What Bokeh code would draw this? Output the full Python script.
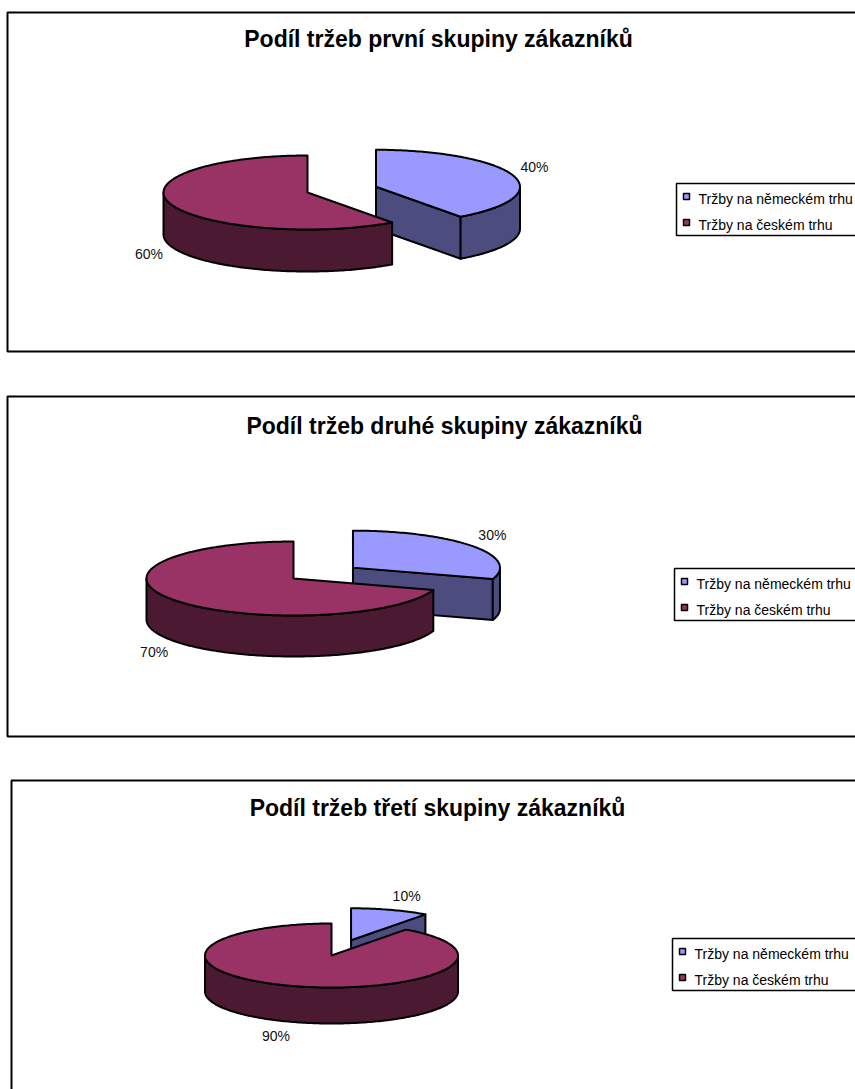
import numpy as np
from bokeh.plotting import figure
from bokeh.models import Range1d
from bokeh.core.properties import value
from bokeh.embed import file_html
from bokeh.resources import INLINE

# ---------------- data ----------------
categories = ["Tržby na německém trhu", "Tržby na českém trhu"]
titles = [
    "Podíl tržeb první skupiny zákazníků",
    "Podíl tržeb druhé skupiny zákazníků",
    "Podíl tržeb třetí skupiny zákazníků",
]
shares_first = [40, 60]
shares_second = [30, 70]
shares_third = [10, 90]
series = [shares_first, shares_second, shares_third]

# ---------------- styles / layout ----------------
top_colors = ["#9999FF", "#993366"]
side_colors = ["#4C4C7F", "#4C1933"]
explode = [0.5, 0.0]
FONT = "Liberation Sans"

layouts = [
    dict(box=(7, 12, 351), title=(438, 38), center=(307, 192), a=144, b=37, depth=42, legend=(676, 183)),
    dict(box=(7, 396, 736), title=(444, 425), center=(293, 578), a=147, b=37, depth=41, legend=(674, 568)),
    dict(box=(11, 780, 1110), title=(437, 807), center=(331, 955), a=126.5, b=32, depth=36, legend=(672, 938)),
]

W, H = 855, 1089
p = figure(width=W, height=H, output_backend="svg", toolbar_location=None,
           x_range=Range1d(0, W), y_range=Range1d(H, 0),
           min_border=0, x_axis_location=None, y_axis_location=None,
           background_fill_color="white", border_fill_color="white")
p.outline_line_color = None
p.xgrid.visible = False
p.ygrid.visible = False


def arc(cx, cy, a, b, t0, t1, dy=0.0):
    n = max(2, int(abs(t1 - t0)) + 1)
    t = np.radians(np.linspace(t0, t1, n))
    return list(cx + a * np.cos(t)), list(cy - b * np.sin(t) + dy)


def front_parts(s, e):
    parts = []
    for k in range(-3, 4):
        lo, hi = k * 360 - 180, k * 360
        a0, a1 = max(s, lo), min(e, hi)
        if a1 - a0 > 1e-6:
            parts.append((a0, a1))
    return parts


for vals, title, L in zip(series, titles, layouts):
    left, top, bottom = L["box"]
    p.quad(left=[left], right=[W + 20], top=[top], bottom=[bottom],
           fill_color=None, line_color="black", line_width=2)
    p.text(x=[L["title"][0]], y=[L["title"][1]], text=[title],
           text_font=value(FONT), text_font_size=value("23px"), text_font_style="bold",
           text_align="center", text_baseline="middle", text_color="black")

    cx0, cy0 = L["center"]
    a, b, depth = L["a"], L["b"], L["depth"]
    total = float(sum(vals))
    cum = np.concatenate([[0.0], np.cumsum(vals)]) / total

    xs, ys, fills = [], [], []
    labels = []
    for i, v in enumerate(vals):
        s = 90 - 360 * cum[i + 1]
        e = 90 - 360 * cum[i]
        m = (s + e) / 2
        mr = np.radians(m)
        cx = cx0 + explode[i] * a * np.cos(mr)
        cy = cy0 - explode[i] * b * np.sin(mr)

        # radial walls
        for ang, vis in ((s, np.cos(np.radians(s)) > 1e-9), (e, np.cos(np.radians(e)) < -1e-9)):
            if vis:
                r = np.radians(ang)
                rx, ry = cx + a * np.cos(r), cy - b * np.sin(r)
                xs.append([cx, rx, rx, cx])
                ys.append([cy, ry, ry + depth, cy + depth])
                fills.append(side_colors[i])
        # outer front wall
        for a0, a1 in front_parts(s, e):
            tx, ty = arc(cx, cy, a, b, a0, a1)
            bx, by = arc(cx, cy, a, b, a1, a0, dy=depth)
            xs.append(tx + bx)
            ys.append(ty + by)
            fills.append(side_colors[i])
        # top face
        tx, ty = arc(cx, cy, a, b, s, e)
        xs.append([cx] + tx)
        ys.append([cy] + ty)
        fills.append(top_colors[i])

        # label
        px, py = cx + a * np.cos(mr), cy - b * np.sin(mr)
        if np.sin(mr) < 0:
            py += depth
        g, hw, hh = 8, 14, 6
        lx = px + g * np.cos(mr) + np.sign(np.cos(mr)) * hw
        ly = py - g * np.sin(mr) - np.sign(np.sin(mr)) * hh
        labels.append((lx, ly, f"{v}%"))

    p.patches(xs=xs, ys=ys, fill_color=fills, line_color="black", line_width=2,
              line_join="round")
    p.text(x=[l[0] for l in labels], y=[l[1] for l in labels], text=[l[2] for l in labels],
           text_font=value(FONT), text_font_size=value("14px"),
           text_align="center", text_baseline="middle", text_color="#111111")

    # legend
    lx0, ly0 = L["legend"]
    p.quad(left=[lx0], right=[W + 20], top=[ly0], bottom=[ly0 + 52],
           fill_color="white", line_color="black", line_width=1.5)
    p.quad(left=[lx0 + 7, lx0 + 7], right=[lx0 + 13, lx0 + 13],
           top=[ly0 + 10, ly0 + 36], bottom=[ly0 + 16, ly0 + 42],
           fill_color=top_colors, line_color="black", line_width=1.5)
    p.text(x=[lx0 + 22, lx0 + 22], y=[ly0 + 15, ly0 + 41], text=categories,
           text_font=value(FONT), text_font_size=value("14px"),
           text_align="left", text_baseline="middle", text_color="black")

open("out.html", "w").write(file_html(p, INLINE))
